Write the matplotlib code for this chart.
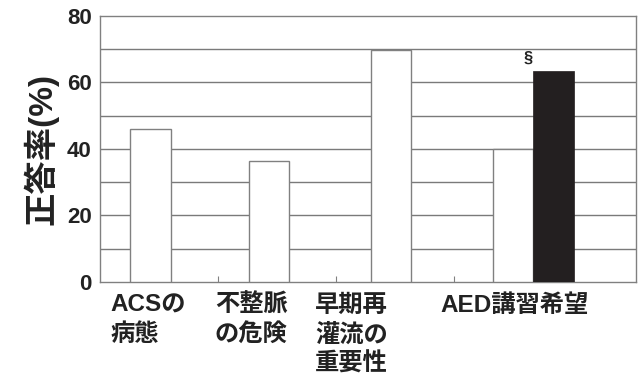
import numpy as np
import matplotlib
matplotlib.use("Agg")
import matplotlib.pyplot as plt
import matplotlib.transforms as transforms

plt.rcParams['font.family'] = ['Liberation Sans', 'Noto Sans CJK JP', 'DejaVu Sans']

# data
categories = ['ACSの\n病態', '不整脈\nの危険', '早期再\n灌流の\n重要性', 'AED講習希望']
white_values = [46.1, 36.3, 69.7, 40.0]
black_values = [None, None, None, 63.3]
mark_labels = ['', '', '', '§']

grid_col = '#7a7a7a'
edge_col = '#808080'
black_col = '#231f20'
text_col = '#222222'

fig = plt.figure(figsize=(6.4, 3.78), dpi=100)
ax = fig.add_axes([0.156, 0.254, 0.838, 0.704])

# one x unit = one category slot (118 px)
white_x = [0.432, 1.432, 2.467, 3.50]
bar_w = 0.345

for i, v in enumerate(white_values):
    ax.bar(white_x[i], v, width=bar_w, color='white', edgecolor=edge_col,
           linewidth=1.0, zorder=3)
for i, v in enumerate(black_values):
    if v is None:
        continue
    bx = white_x[i] + bar_w
    ax.bar(bx, v, width=bar_w, color=black_col, edgecolor=black_col,
           linewidth=0.5, zorder=3)
    ax.text(bx - 0.22, v + 1.8, mark_labels[i], ha='center', va='bottom',
            fontsize=12, fontweight='bold', color=text_col, zorder=4)

ax.set_xlim(0, 536 / 118)
ax.set_ylim(0, 80)
ax.set_yticks(np.arange(0, 81, 20))
ax.set_yticklabels([str(t) for t in range(0, 81, 20)], fontsize=16,
                   fontweight='bold', color=text_col)
ax.tick_params(axis='y', length=0, pad=6)

for y in np.arange(10, 80, 10):
    ax.axhline(y, color=grid_col, linewidth=1.0, zorder=1)

ax.set_xticks([1, 2, 3])
ax.set_xticklabels([])
ax.tick_params(axis='x', direction='in', length=4, color=edge_col, width=0.8)

for s in ax.spines.values():
    s.set_color(edge_col)
    s.set_linewidth(1.0)

ax.set_ylabel('正答率(%)', fontsize=24, fontweight='bold', color=text_col,
              labelpad=6)

trans = transforms.blended_transform_factory(ax.transData, ax.transAxes)
label_x = [0.093, 0.975, 1.822, 2.886]
for i, c in enumerate(categories):
    ax.text(label_x[i], -0.045, c, transform=trans, ha='left', va='top',
            fontsize=17.5, fontweight='bold', color=text_col, linespacing=1.33)

fig.savefig('out.png', dpi=100)
